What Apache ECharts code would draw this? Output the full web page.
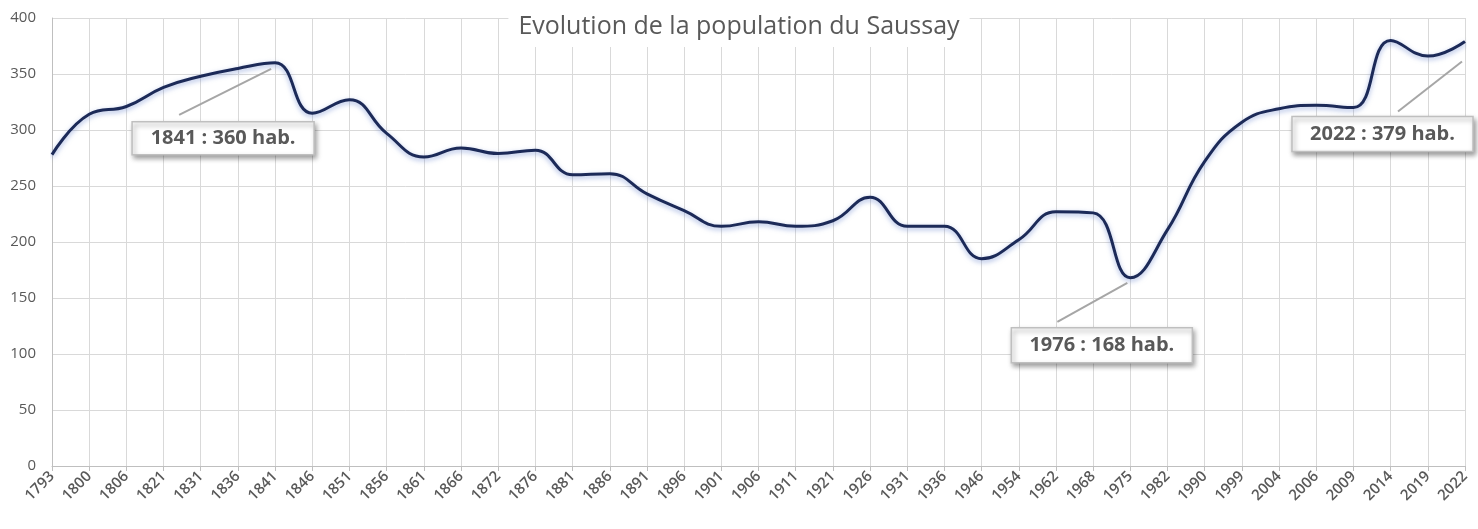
<!DOCTYPE html>
<html>
<head>
<meta charset="utf-8">
<script src="https://cdn.jsdelivr.net/npm/echarts@6/dist/echarts.min.js"></script>
<style>
html,body{margin:0;padding:0;background:#fff;}
#c{width:1478px;height:529px;}
</style>
</head>
<body>
<div id="c"></div>
<script>
const titleText = 'Evolution de la population du Saussay';
const years = ['1793','1800','1806','1821','1831','1836','1841','1846','1851','1856','1861','1866','1872','1876','1881','1886','1891','1896','1901','1906','1911','1921','1926','1931','1936','1946','1954','1962','1968','1975','1982','1990','1999','2004','2006','2009','2014','2019','2022'];
const population = [278,314,321,338,348,355,360,315,327,297,276,284,279,282,260,261,243,228,214,218,214,219,240,214,214,185,202,227,226,168,211,272,307,319,322,320,380,366,379];
const yTicks = [0,50,100,150,200,250,300,350,400];
// annotations: category, value, text
const noteYears = ['1841','1975','2022'];
const noteValues = [360,168,379];
const noteTexts = ['1841 : 360 hab.','1976 : 168 hab.','2022 : 379 hab.'];

const chart = echarts.init(document.getElementById('c'));
const txt = '#595959';
chart.setOption({
  animation:false,
  backgroundColor:'#fff',
  title:{
    text:titleText, left:'center', top:4,
    backgroundColor:'#fff', padding:[10,10,8,10],
    textStyle:{fontFamily:'Open Sans', fontSize:25, fontWeight:'normal', color:txt}
  },
  grid:{left:52,right:13,top:18,bottom:63},
  xAxis:{
    type:'category', data:years, boundaryGap:false,
    axisLine:{lineStyle:{color:'#bfbfbf',width:1}},
    axisTick:{show:true,length:5,lineStyle:{color:'#bfbfbf'}},
    axisLabel:{rotate:45,fontFamily:'Open Sans',fontSize:15,fontWeight:600,color:txt,margin:8,interval:0},
    splitLine:{show:true,lineStyle:{color:'#d9d9d9',width:1}}
  },
  yAxis:{
    type:'value', min:yTicks[0], max:yTicks[yTicks.length-1], interval:50,
    axisLine:{show:true,lineStyle:{color:'#bfbfbf'}},
    axisTick:{show:false},
    axisLabel:{fontFamily:'Open Sans',fontSize:15,color:txt,margin:16},
    splitLine:{show:true,lineStyle:{color:'#d9d9d9',width:1}}
  },
  series:[{
    type:'line', data:population, smooth:0.45, symbol:'none',
    lineStyle:{color:'#1c2a58',width:3,shadowColor:'rgba(90,120,200,0.55)',shadowBlur:5,shadowOffsetY:2}
  }]
});

// annotation boxes placed relative to their data anchor
const lead = [[-96,52,-4,6],[-73,44,-3,5],[-67,70,-3,20]];
const box = [[-143,59,182,33],[-119,50,181,35],[-173,75,181,35]];
const g = [];
noteYears.forEach((y,i)=>{
  const p = chart.convertToPixel({seriesIndex:0},[years.indexOf(y), noteValues[i]]);
  const L = lead[i], B = box[i];
  g.push({type:'line',shape:{x1:p[0]+L[0],y1:p[1]+L[1],x2:p[0]+L[2],y2:p[1]+L[3]},
    style:{stroke:'#a6a6a6',lineWidth:2},z:10});
  g.push({type:'rect',shape:{x:p[0]+B[0],y:p[1]+B[1],width:B[2],height:B[3]},
    style:{fill:'#fff',stroke:'#bfbfbf',lineWidth:1.5,shadowColor:'rgba(0,0,0,0.4)',shadowBlur:5,shadowOffsetX:2,shadowOffsetY:3},z:10});
  g.push({type:'text',x:p[0]+B[0]+B[2]/2,y:p[1]+B[1]+B[3]/2,
    style:{text:noteTexts[i],fill:txt,font:'bold 20px "Open Sans"',align:'center',verticalAlign:'middle'},z:11});
});
chart.setOption({graphic:g});
</script>
</body>
</html>
